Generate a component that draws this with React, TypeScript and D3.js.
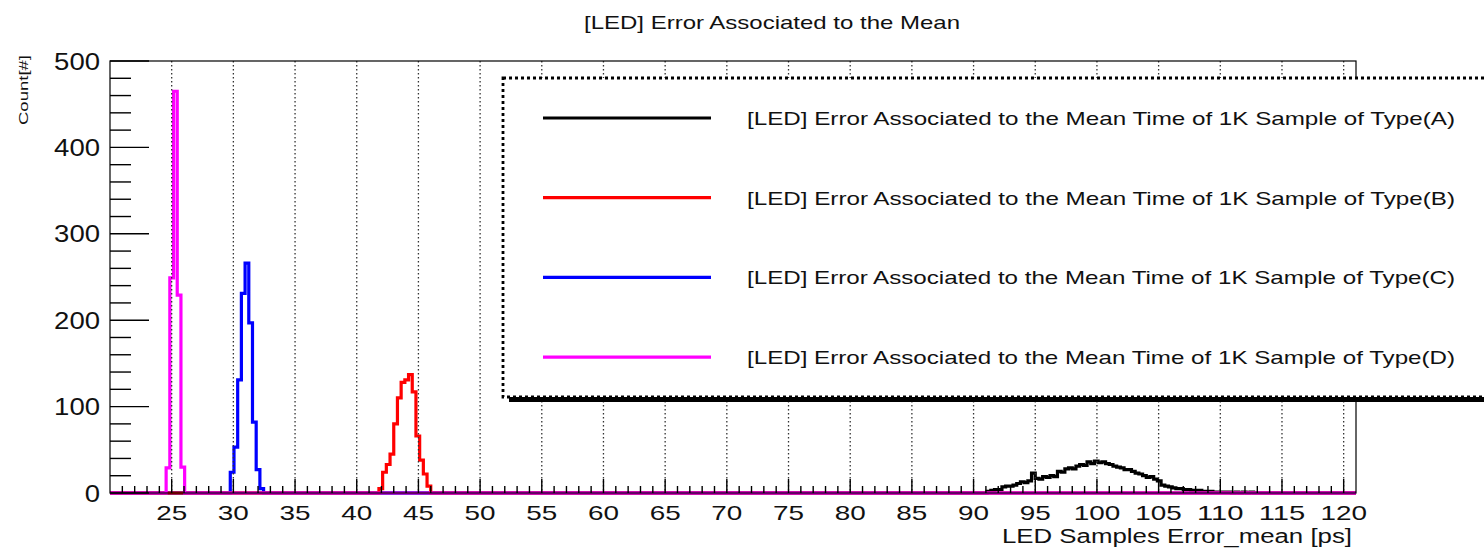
import React from "react";
import * as d3 from "d3";

// histogram bins, width 0.3 ps
const binWidth = 0.3;

const typeAStart = 91.1;
const typeA = [
  2, 3, 4, 4, 7, 8, 8, 9, 11, 13, 12, 14,
  23, 17, 16, 19, 18, 20, 19, 25, 24, 28, 29, 28,
  31, 33, 32, 36, 34, 37, 35, 36, 34, 33, 31, 30,
  29, 27, 27, 25, 23, 22, 20, 18, 19, 16, 14, 9,
  8, 7, 6, 5, 5, 4, 4, 3, 3, 3, 2, 2, 2, 1, 1, 1, 1, 1, 0, 1, 0, 1, 0, 1,
];

const typeBStart = 41.8;
const typeB = [5, 24, 33, 45, 80, 110, 128, 131, 137, 117, 66, 38, 22, 8];

const typeCStart = 29.75;
const typeC = [24, 53, 131, 231, 266, 197, 82, 27, 5];

const typeDStart = 24.55;
const typeD = [29, 249, 465, 229, 30];

const xTicks = [25, 30, 35, 40, 45, 50, 55, 60, 65, 70, 75, 80, 85, 90, 95, 100, 105, 110, 115, 120];
const yTicks = [0, 100, 200, 300, 400, 500];

const legendLabels = [
  "[LED] Error Associated to the Mean Time of 1K Sample of Type(A)",
  "[LED] Error Associated to the Mean Time of 1K Sample of Type(B)",
  "[LED] Error Associated to the Mean Time of 1K Sample of Type(C)",
  "[LED] Error Associated to the Mean Time of 1K Sample of Type(D)",
];

const FONT = "'Liberation Sans', Arial, Helvetica, sans-serif";

export default function App() {
  const left = 110, right = 1356, top = 61, bottom = 493;
  const x = d3.scaleLinear().domain([20, 121]).range([left, right]);
  const y = d3.scaleLinear().domain([0, 500]).range([bottom, top]);

  const stepLine = d3
    .line<[number, number]>()
    .x((d) => x(d[0]))
    .y((d) => y(d[1]))
    .curve(d3.curveStepAfter);

  const histPath = (start: number, vals: number[]) => {
    const pts: [number, number][] = [[20, 0]];
    vals.forEach((v, i) => pts.push([start + i * binWidth, v]));
    pts.push([start + vals.length * binWidth, 0]);
    pts.push([121, 0]);
    return stepLine(pts) as string;
  };

  // draw order: A, C, B, D (red shows under the magenta peak)
  const hists = [
    { start: typeAStart, vals: typeA, color: "#000000" },
    { start: typeCStart, vals: typeC, color: "#0000ff" },
    { start: typeBStart, vals: typeB, color: "#ff0000" },
    { start: typeDStart, vals: typeD, color: "#ff00ff" },
  ];
  const legendColors = ["#000000", "#ff0000", "#0000ff", "#ff00ff"];

  const xMinor = d3.range(21, 121).filter((v) => v % 5 !== 0);
  const yMinor = d3.range(0, 500, 20).filter((v) => v % 100 !== 0);

  return (
    <svg
      width={1484}
      height={548}
      style={{ position: "absolute", left: 0, top: 0, background: "#fff" }}
      fontFamily={FONT}
    >
      <rect x={0} y={0} width={1484} height={548} fill="#fff" />

      {/* histograms */}
      {hists.map((h, i) => (
        <path key={i} d={histPath(h.start, h.vals)} fill="none" stroke={h.color} strokeWidth={3.2} />
      ))}

      {/* grid */}
      {xTicks.map((t) => (
        <line key={t} x1={x(t)} x2={x(t)} y1={top} y2={bottom} stroke="#333" strokeWidth={1.3} strokeDasharray="1.5 2.5" />
      ))}

      {/* frame */}
      <rect x={left} y={top} width={right - left} height={bottom - top} fill="none" stroke="#000" strokeWidth={1.2} />

      {/* y axis ticks */}
      {yTicks.map((t) => (
        <g key={t}>
          <line x1={left} x2={left + 39} y1={y(t)} y2={y(t)} stroke="#000" strokeWidth={1.4} />
          <text x={100} y={y(t) + 8.5} fontSize={24} textAnchor="end" textLength={15.3 * String(t).length} lengthAdjust="spacingAndGlyphs" fill="#111">
            {t}
          </text>
        </g>
      ))}
      {yMinor.map((t) => (
        <line key={t} x1={left} x2={left + 21} y1={y(t)} y2={y(t)} stroke="#000" strokeWidth={1.4} />
      ))}

      {/* x axis ticks */}
      {xTicks.map((t) => (
        <g key={t}>
          <line x1={x(t)} x2={x(t)} y1={bottom} y2={bottom - 14} stroke="#000" strokeWidth={1.4} />
          <text x={x(t)} y={520} fontSize={21} textAnchor="middle" textLength={15.5 * String(t).length} lengthAdjust="spacingAndGlyphs" fill="#111">
            {t}
          </text>
        </g>
      ))}
      {xMinor.map((t) => (
        <line key={t} x1={x(t)} x2={x(t)} y1={bottom} y2={bottom - 7} stroke="#000" strokeWidth={1.4} />
      ))}

      {/* titles */}
      <text x={772} y={29} fontSize={19} textAnchor="middle" textLength={376} lengthAdjust="spacingAndGlyphs" fill="#111">
        [LED] Error Associated to the Mean
      </text>
      <text x={1352} y={543} fontSize={20} textAnchor="end" textLength={350} lengthAdjust="spacingAndGlyphs" fill="#111">
        LED Samples Error_mean [ps]
      </text>
      <text transform="translate(28,55) rotate(-90)" fontSize={13} textAnchor="end" textLength={70} lengthAdjust="spacingAndGlyphs" fill="#111">
        Count[#]
      </text>

      {/* legend */}
      <rect x={509} y={84} width={990} height={318} fill="#000" />
      <rect x={503} y={78} width={990} height={319} fill="#fff" stroke="#000" strokeWidth={2.8} strokeDasharray="3 3" />
      {legendLabels.map((lab, i) => {
        const ly = 118 + i * 79.7;
        return (
          <g key={lab}>
            <line x1={543} x2={711} y1={ly} y2={ly} stroke={legendColors[i]} strokeWidth={3.2} />
            <text x={747} y={ly + 7} fontSize={19} textLength={708} lengthAdjust="spacingAndGlyphs" fill="#111">
              {lab}
            </text>
          </g>
        );
      })}
    </svg>
  );
}
